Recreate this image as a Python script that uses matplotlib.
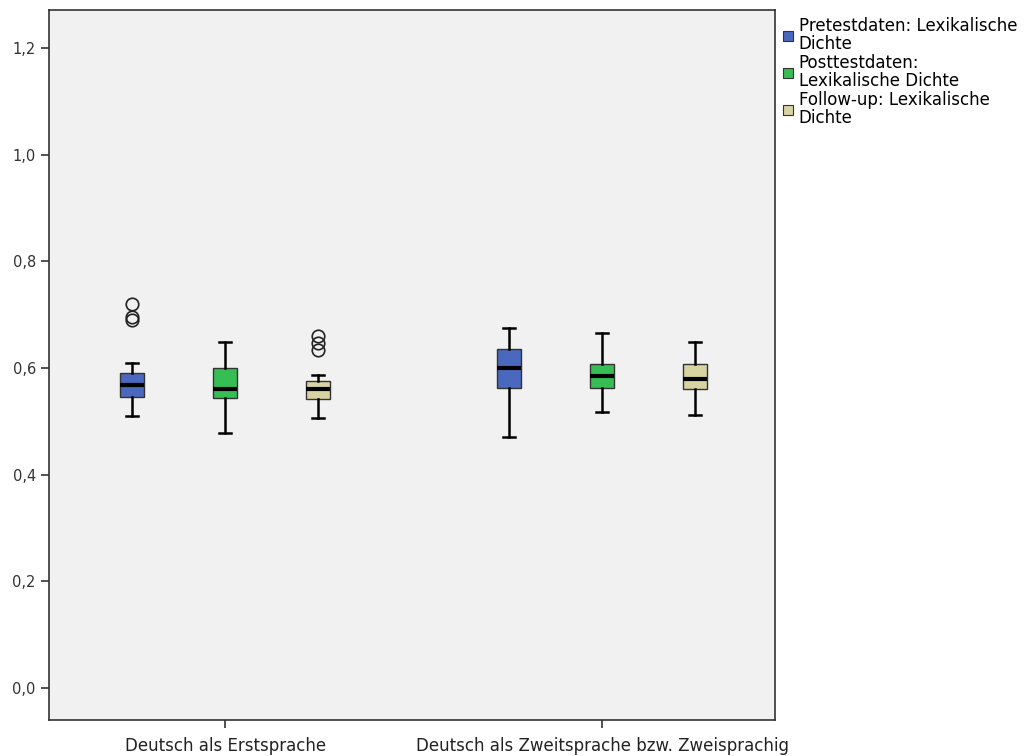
import matplotlib.pyplot as plt
from matplotlib.patches import Patch

# Gruppen und Messzeitpunkte
gruppen = ["Deutsch als Erstsprache", "Deutsch als Zweitsprache bzw. Zweisprachig"]
serien = ["Pretestdaten: Lexikalische\nDichte", "Posttestdaten:\nLexikalische Dichte",
          "Follow-up: Lexikalische\nDichte"]
farben = ["#4A68BE", "#36BE55", "#D8D3A2"]

# Kennwerte je Gruppe (Reihenfolge: Pre, Post, Follow-up)
whislo = [[0.509, 0.478, 0.506], [0.471, 0.517, 0.511]]
q1 = [[0.545, 0.543, 0.541], [0.562, 0.563, 0.560]]
med = [[0.568, 0.560, 0.560], [0.599, 0.584, 0.579]]
q3 = [[0.590, 0.599, 0.576], [0.636, 0.607, 0.607]]
whishi = [[0.610, 0.648, 0.587], [0.674, 0.665, 0.648]]
ausreisser = [[[0.720, 0.696, 0.689], [], [0.659, 0.646, 0.634]], [[], [], []]]

fig = plt.figure(figsize=(10.26, 7.56), dpi=100)
ax = fig.add_axes([0.0478, 0.0476, 0.7076, 0.9392])
ax.set_facecolor("#F1F1F1")

offsets = [-0.2467, 0.0, 0.2467]
breite = 0.065
for g in range(len(gruppen)):
    for s in range(len(serien)):
        stats = [dict(med=med[g][s], q1=q1[g][s], q3=q3[g][s], whislo=whislo[g][s],
                      whishi=whishi[g][s], fliers=ausreisser[g][s])]
        ax.bxp(stats, positions=[g + offsets[s]], widths=breite, patch_artist=True,
               capwidths=breite * 0.5,
               boxprops=dict(facecolor=farben[s], edgecolor="#333333", linewidth=1.0),
               medianprops=dict(color="black", linewidth=3),
               whiskerprops=dict(color="black", linewidth=1.8),
               capprops=dict(color="black", linewidth=1.8),
               flierprops=dict(marker="o", markerfacecolor="none", markeredgecolor="#222222",
                               markersize=9, markeredgewidth=1.2),
               manage_ticks=False)

ax.set_xlim(-0.467, 1.459)
ax.set_ylim(-0.06, 1.271)
ax.set_yticks([0.0, 0.2, 0.4, 0.6, 0.8, 1.0, 1.2])
ax.set_yticklabels(["0,0", "0,2", "0,4", "0,6", "0,8", "1,0", "1,2"], fontsize=10.5, color="#333333")
ax.set_xticks([0, 1])
ax.set_xticklabels(gruppen, fontsize=12, color="#222222")
ax.tick_params(axis="both", length=6, width=1.2, color="#333333")
ax.tick_params(axis="x", pad=6)
for sp in ax.spines.values():
    sp.set_linewidth(1.2)
    sp.set_color("#333333")

handles = [Patch(facecolor=c, edgecolor="#333333", linewidth=0.8) for c in farben]
leg = fig.legend(handles, serien, loc="upper left", bbox_to_anchor=(0.763, 0.977), frameon=False,
                 fontsize=12, handlelength=0.6, handleheight=0.6, handletextpad=0.35,
                 labelspacing=0.1, borderaxespad=0, borderpad=0)
for t in leg.get_texts():
    t.set_linespacing(0.95)

plt.savefig("out.png", dpi=100)
